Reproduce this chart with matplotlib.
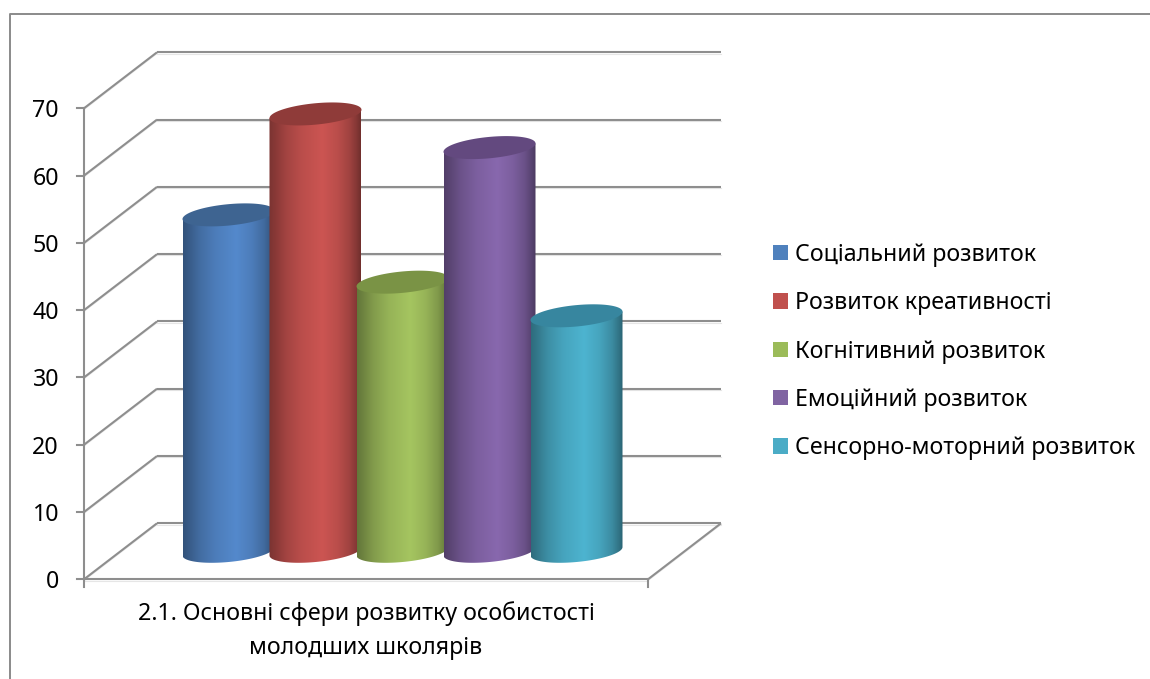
import numpy as np
import matplotlib
matplotlib.use('Agg')
import matplotlib.pyplot as plt
from matplotlib.lines import Line2D
from matplotlib.patches import PathPatch, Patch
from matplotlib.path import Path
from matplotlib.colors import to_rgb

plt.rcParams['font.family'] = ['Noto Sans', 'DejaVu Sans']

# Data
categories = ['Соціальний розвиток', 'Розвиток креативності', 'Когнітивний розвиток',
              'Емоційний розвиток', 'Сенсорно-моторний розвиток']
values = [50, 65, 40, 60, 35]
y_ticks = [0, 10, 20, 30, 40, 50, 60, 70]
x_title = '2.1. Основні сфери розвитку особистості\nмолодших школярів'

# Colours
legend_colors = ['#4F81BD', '#C0504D', '#9BBB59', '#8064A2', '#4BACC6']
body_colors = ['#5489CC', '#CC5552', '#A5C560', '#8868AE', '#4DB4D0']
top_colors = ['#3E6491', '#8F3B39', '#7A9345', '#63497F', '#37869F']
grid_color = '#8E8E8E'

W, H = 1150, 679
fig = plt.figure(figsize=(W / 100, H / 100), dpi=100)
ax = fig.add_axes([0, 0, 1, 1])

# Front plane of the box: x 0..1 spans 84..648 px, y 0..70 spans 579..108 px
px_x = 1 / (648 - 84)
px_y = 70 / (579.3 - 108.3)
x_lim = (-84 * px_x, (W - 84) * px_x)
y_lim = ((579.3 - H) * px_y, 579.3 * px_y)

# Oblique depth of the box
depth_x = 73 * px_x
depth_y = 56 * px_y


def grid_line(xs, ys, z=1):
    ax.plot(xs, ys, color=grid_color, lw=1.5, solid_capstyle='butt', zorder=z)
    ax.plot(xs, [y - 1.3 * px_y for y in ys], color='#E6E6E6', lw=0.8, zorder=z - 0.5)


# Walls and floor
for v in y_ticks:
    grid_line([0, depth_x], [v, v + depth_y])
    grid_line([depth_x, 1 + depth_x], [v + depth_y, v + depth_y])
    ax.plot([-7 * px_x, 0], [v, v], color=grid_color, lw=1.5, zorder=1)
    ax.text(-25 * px_x, v - 3 * px_y, str(v), ha='right', va='center', fontsize=16.7, color='black')

grid_line([0, 1], [0, 0])
grid_line([1, 1 + depth_x], [0, depth_y])
ax.plot([0, 0], [y_ticks[0] - 8 * px_y, y_ticks[-1]], color=grid_color, lw=1.5, zorder=1)
ax.plot([1, 1], [-8 * px_y, 0], color=grid_color, lw=1.5, zorder=1)

# Cylinders
step = 87 * px_x
half_w = 46 * px_x
ell_b = 10.7 * px_y
ell_s = 4.2 * px_y
t = np.linspace(0, 2 * np.pi, 181)
stops_x = [0, 0.06, 0.18, 0.35, 0.58, 0.75, 0.88, 0.96, 1]
stops_k = [0.60, 0.66, 0.79, 0.91, 1.0, 0.91, 0.78, 0.64, 0.55]
shade = np.interp(np.linspace(0, 1, 256), stops_x, stops_k)

for i, v in enumerate(values):
    cx = 0.5 + (i - 2) * step + depth_x / 2
    base = depth_y / 2
    top = v + depth_y / 2

    # lower half of the base ellipse, then back across the top
    lower = t[(t >= np.pi) & (t <= 2 * np.pi)]
    bx = cx + half_w * np.cos(lower)
    by = base + ell_b * np.sin(lower) + ell_s * np.cos(lower)
    xs = np.r_[bx, cx + half_w, cx - half_w]
    ys = np.r_[by, top + ell_s, top - ell_s]
    body = PathPatch(Path(np.c_[xs, ys]), fc='none', ec='none', zorder=3 + i)
    ax.add_patch(body)

    rgb = np.array(to_rgb(body_colors[i]))
    img = (shade[:, None] * rgb)[None, :, :]
    im = ax.imshow(img, extent=[cx - half_w, cx + half_w, base - 3, top + 3],
                   aspect='auto', interpolation='bilinear', zorder=3 + i)
    im.set_clip_path(body)

    ax.fill(cx + half_w * np.cos(t), top + ell_b * np.sin(t) + ell_s * np.cos(t),
            color=top_colors[i], lw=0, zorder=3.5 + i)

# Outer chart frame, open towards the right and bottom
ax.add_line(Line2D([1, 9.5 / W, 9.5 / W], [1 - 14 / H, 1 - 14 / H, 0], transform=ax.transAxes,
                   color='#8A8A8A', lw=1.4, zorder=0.5))

ax.text(0.5, (579.3 - 630.5) * px_y, x_title, ha='center', va='center', fontsize=16.7,
        linespacing=1.53, color='black')

handles = [Patch(facecolor=c, edgecolor='none') for c in legend_colors]
ax.legend(handles, categories, loc='center left', bbox_to_anchor=(773 / W, 1 - 351.5 / H),
          frameon=False, fontsize=16.7, handlelength=0.65, handleheight=0.65,
          handletextpad=0.3, labelspacing=1.05, borderpad=0, borderaxespad=0)

ax.set_xlim(x_lim)
ax.set_ylim(y_lim)
ax.axis('off')

fig.savefig('out.png', dpi=100, facecolor='white')
